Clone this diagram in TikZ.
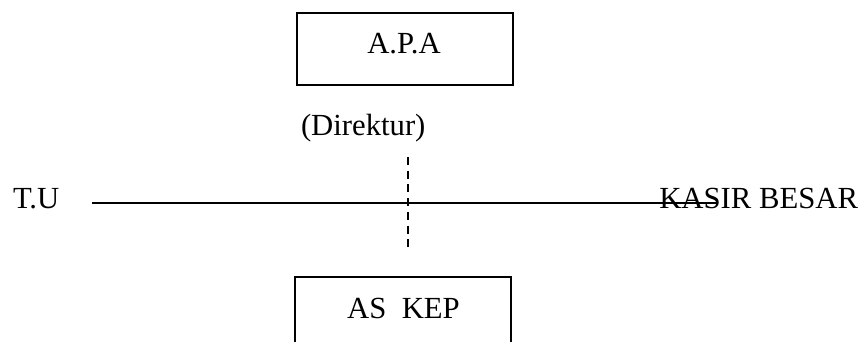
\documentclass[tikz,border=0pt]{standalone}
\usepackage{fontspec}
\setmainfont{Liberation Serif}
\begin{document}
\begin{tikzpicture}[x=1pt,y=-1pt,
  every node/.style={inner sep=0pt,outer sep=0pt},
  lbl/.style={font=\fontsize{30.7}{36}\selectfont},
  box/.style={draw,line width=2pt,rectangle},
  rule/.style={line width=2pt},
  dashrule/.style={line width=2pt,dash pattern=on 8pt off 5.7pt}]
  \clip (0,0) rectangle (865,342);

  % top office
  \node[box,minimum width=216pt,minimum height=72pt] (apa) at (405,49) {};
  \node[lbl,anchor=base] (apaT) at (404,54) {A.P.A};
  \node[lbl,anchor=base west] (dir) at (301,136) {(Direktur)};

  % side units
  \node[lbl,anchor=base west] (tu) at (13,208) {T.U};
  \node[lbl,anchor=base east] (kasir) at (858,208) {KASIR BESAR};

  % lower office, running off the bottom edge
  \node[box,minimum width=216pt,minimum height=100pt,anchor=north] (askep) at (403,277) {};
  \node[lbl,anchor=base] (askepT) at (403.5,318) {AS\ \ KEP};

  % connectors
  \coordinate (hL) at (92,202.5);
  \coordinate (hR) at (717,202.5);
  \coordinate (vT) at (408,157);
  \coordinate (vB) at (408,248);
  \draw[rule] (hL) -- (hR);
  \draw[dashrule] (vT) -- (vB);
\end{tikzpicture}
\end{document}
